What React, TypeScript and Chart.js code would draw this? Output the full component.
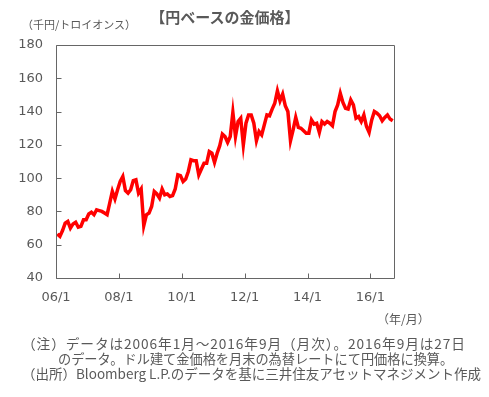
import React, { useEffect, useRef } from "react";
import { Chart, registerables } from "chart.js";

Chart.register(...registerables);

// Gold price in yen (thousand yen / troy ounce), monthly, Jan 2006 - Sep 2016
const y2006 = [66.5, 65, 68.5, 73, 74, 70, 72.5, 73.5, 70.5, 71, 75, 75];
const y2007 = [78.5, 79.5, 78, 81, 80.5, 80, 79, 78, 85, 92, 87.5, 93];
const y2008 = [98, 101, 92.5, 91, 93, 98.5, 99, 91, 93.5, 71.5, 78, 79];
const y2009 = [83, 92, 90.5, 88, 93.5, 90, 90.5, 89, 89.5, 93.5, 102, 101.5];
const y2010 = [98, 99.5, 104, 111, 110.5, 110.5, 102, 105.5, 109, 109, 116, 115];
const y2011 = [109.5, 115, 119.5, 126.5, 125, 121.5, 125, 139.5, 125, 134, 136, 120];
const y2012 = [133, 138, 138, 133, 122.5, 128, 126, 132, 138, 137.5, 141.5, 145];
const y2013 = [152.5, 146.5, 150.5, 143.5, 140, 122.5, 129, 136.5, 130.5, 130, 128.5, 127];
const y2014 = [127, 135, 132.5, 133, 127.5, 134, 132.5, 134, 133, 131.5, 140, 144];
const y2015 = [151, 145.5, 142, 141.5, 147, 144, 136, 137, 134, 138, 131, 127.5];
const y2016 = [135, 140, 139, 137.5, 134.5, 136.5, 138, 135.5, 134.5];

const goldYen = [
  ...y2006, ...y2007, ...y2008, ...y2009, ...y2010, ...y2011,
  ...y2012, ...y2013, ...y2014, ...y2015, ...y2016,
];

const xTickValues = [0, 24, 48, 72, 96, 120];
const xTickLabels = ["06/1", "08/1", "10/1", "12/1", "14/1", "16/1"];
const yMin = 40;
const yMax = 180;
const yStep = 20;

const TEXT = "#595959";
const AXIS = "#666666";

const boxPlugin = {
  id: "boxAndInwardTicks",
  afterDraw(chart: any) {
    const { ctx, chartArea, scales } = chart;
    const { left, right, top, bottom } = chartArea;
    ctx.save();
    ctx.strokeStyle = AXIS;
    ctx.lineWidth = 1;
    ctx.beginPath();
    ctx.rect(Math.round(left) + 0.5, Math.round(top) + 0.5, Math.round(right - left), Math.round(bottom - top));
    scales.x.ticks.forEach((t: any) => {
      const px = Math.round(scales.x.getPixelForValue(t.value)) + 0.5;
      ctx.moveTo(px, Math.round(bottom) + 0.5);
      ctx.lineTo(px, Math.round(bottom) - 4.5);
    });
    scales.y.ticks.forEach((t: any) => {
      const py = Math.round(scales.y.getPixelForValue(t.value)) + 0.5;
      ctx.moveTo(Math.round(left) + 0.5, py);
      ctx.lineTo(Math.round(left) + 5.5, py);
    });
    ctx.stroke();
    ctx.restore();
  },
};

export default function App() {
  const ref = useRef<HTMLCanvasElement | null>(null);

  useEffect(() => {
    if (!ref.current) return;
    const chart = new Chart(ref.current, {
      type: "line",
      data: {
        datasets: [
          {
            data: goldYen.map((v, i) => ({ x: i + 0.5, y: v })),
            borderColor: "#ff0000",
            borderWidth: 3.5,
            pointRadius: 0,
            tension: 0,
            fill: false,
          },
        ],
      },
      options: {
        animation: false,
        responsive: false,
        devicePixelRatio: 1,
        layout: { padding: { left: 0, top: 45, right: 95, bottom: 89 } },
        plugins: { legend: { display: false }, tooltip: { enabled: false } },
        scales: {
          x: {
            type: "linear",
            min: 0,
            max: 129,
            afterBuildTicks: (scale: any) => {
              scale.ticks = xTickValues.map((v) => ({ value: v }));
            },
            afterFit: (scale: any) => {
              scale.height = 30;
            },
            grid: { display: false, drawTicks: false },
            border: { display: false },
            ticks: {
              padding: 12,
              maxRotation: 0,
              autoSkip: false,
              color: TEXT,
              font: { family: "DejaVu Sans", size: 13 },
              callback: (v: any) => {
                const idx = xTickValues.indexOf(Number(v));
                return idx >= 0 ? xTickLabels[idx] : "";
              },
            },
          },
          y: {
            min: yMin,
            max: yMax,
            afterFit: (scale: any) => {
              scale.width = 56;
            },
            grid: { display: false, drawTicks: false },
            border: { display: false },
            ticks: {
              stepSize: yStep,
              padding: 13,
              color: TEXT,
              font: { family: "DejaVu Sans", size: 13 },
            },
          },
        },
      },
      plugins: [boxPlugin],
    });
    return () => chart.destroy();
  }, []);

  const cjk = '"Noto Sans CJK JP", "Noto Sans", sans-serif';
  const abs = (extra: React.CSSProperties): React.CSSProperties => ({
    position: "absolute",
    whiteSpace: "nowrap",
    color: TEXT,
    fontFamily: cjk,
    lineHeight: 1,
    ...extra,
  });

  return (
    <div style={{ position: "absolute", left: 0, top: 0, width: 489, height: 397, background: "#fff", overflow: "hidden" }}>
      <canvas ref={ref} width={489} height={397} style={{ position: "absolute", left: 0, top: 0, width: 489, height: 397 }} />
      <div style={abs({ left: 225, top: 9, fontSize: 15, fontWeight: 700, transform: "translateX(-50%)" })}>【円ベースの金価格】</div>
      <div style={abs({ left: 22, top: 19, fontSize: 11 })}>（千円/トロイオンス）</div>
      <div style={abs({ left: 377, top: 313, fontSize: 12 })}>（年/月）</div>
      <div style={abs({ left: 22, top: 337, fontSize: 13.7, letterSpacing: "0.9px" })}>（注）データは2006年1月～2016年9月（月次）。2016年9月は27日</div>
      <div style={abs({ left: 58, top: 352, fontSize: 13.2 })}>のデータ。ドル建て金価格を月末の為替レートにて円価格に換算。</div>
      <div style={abs({ left: 22, top: 367, fontSize: 13.5 })}>（出所）Bloomberg L.P.のデータを基に三井住友アセットマネジメント作成</div>
    </div>
  );
}
